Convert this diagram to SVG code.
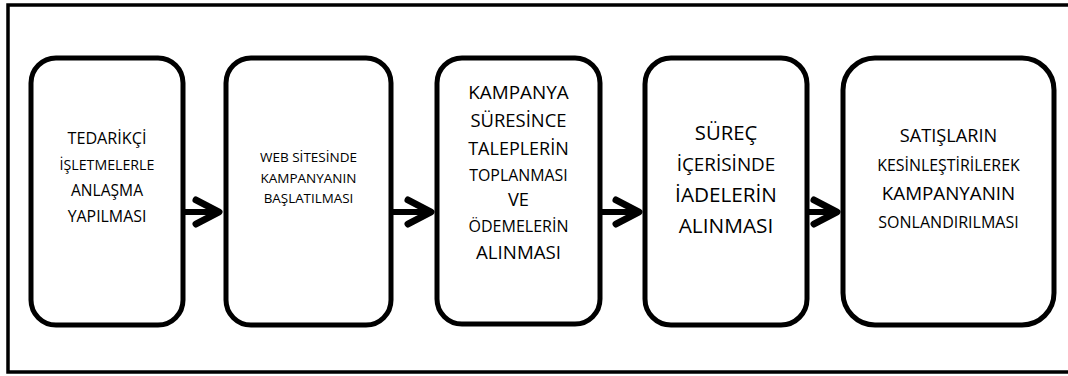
<svg xmlns="http://www.w3.org/2000/svg" width="1068" height="376" viewBox="0 0 1068 376">
<style>
.frame{fill:none;stroke:#000;stroke-width:3.5}
.box{fill:#fff;stroke:#000;stroke-width:5}
.t{font-family:"Open Sans","Noto Sans","Liberation Sans",sans-serif;fill:#000;text-anchor:middle}
.shaft{stroke:#000;stroke-width:6;fill:none}
</style>
<defs>
<marker id="chev" markerUnits="userSpaceOnUse" markerWidth="40" markerHeight="40" refX="30" refY="20" orient="auto" overflow="visible">
<path d="M7,8 L30,20 L7,32" fill="none" stroke="#000" stroke-width="7" stroke-linecap="round" stroke-linejoin="round"/>
</marker>
</defs>
<rect class="frame" x="8" y="5" width="1080" height="367"/>
<g id="connectors">
<line class="shaft" x1="184" y1="212" x2="219" y2="212" marker-end="url(#chev)"/>
<line class="shaft" x1="391" y1="212" x2="431" y2="212" marker-end="url(#chev)"/>
<line class="shaft" x1="600" y1="212" x2="639" y2="212" marker-end="url(#chev)"/>
<line class="shaft" x1="807" y1="212" x2="837" y2="212" marker-end="url(#chev)"/>
</g>
<g id="node1">
<rect class="box" x="31" y="58" width="152" height="267" rx="25"/>
<text class="t" x="107" y="144" font-size="16.2">TEDARİKÇİ</text>
<text class="t" x="107" y="170" font-size="14.2">İŞLETMELERLE</text>
<text class="t" x="107" y="196" font-size="15.6">ANLAŞMA</text>
<text class="t" x="107" y="222" font-size="15.9">YAPILMASI</text>
</g>
<g id="node2">
<rect class="box" x="226" y="58" width="165" height="267" rx="25"/>
<text class="t" x="308.5" y="162" font-size="13.5">WEB SİTESİNDE</text>
<text class="t" x="308.5" y="183" font-size="13.5">KAMPANYANIN</text>
<text class="t" x="308.5" y="203" font-size="13.4">BAŞLATILMASI</text>
</g>
<g id="node3">
<rect class="box" x="437" y="58" width="163" height="266" rx="25"/>
<text class="t" x="518.5" y="99" font-size="18.9">KAMPANYA</text>
<text class="t" x="518.5" y="127" font-size="18.4">SÜRESİNCE</text>
<text class="t" x="518.5" y="155" font-size="18">TALEPLERİN</text>
<text class="t" x="518.5" y="181" font-size="15.9">TOPLANMASI</text>
<text class="t" x="518.5" y="206" font-size="18.3">VE</text>
<text class="t" x="518.5" y="232" font-size="16">ÖDEMELERİN</text>
<text class="t" x="518.5" y="259" font-size="18.7">ALINMASI</text>
</g>
<g id="node4">
<rect class="box" x="645" y="58" width="162" height="267" rx="26"/>
<text class="t" x="726" y="140" font-size="20.3">SÜREÇ</text>
<text class="t" x="726" y="171" font-size="18.9">İÇERİSİNDE</text>
<text class="t" x="726" y="202" font-size="20.7">İADELERİN</text>
<text class="t" x="726" y="233" font-size="20.8">ALINMASI</text>
</g>
<g id="node5">
<rect class="box" x="843" y="58" width="211" height="267" rx="32"/>
<text class="t" x="948.5" y="142" font-size="18.2">SATIŞLARIN</text>
<text class="t" x="948.5" y="171" font-size="15.9">KESİNLEŞTİRİLEREK</text>
<text class="t" x="948.5" y="200" font-size="18.8">KAMPANYANIN</text>
<text class="t" x="948.5" y="228" font-size="16">SONLANDIRILMASI</text>
</g>
</svg>
